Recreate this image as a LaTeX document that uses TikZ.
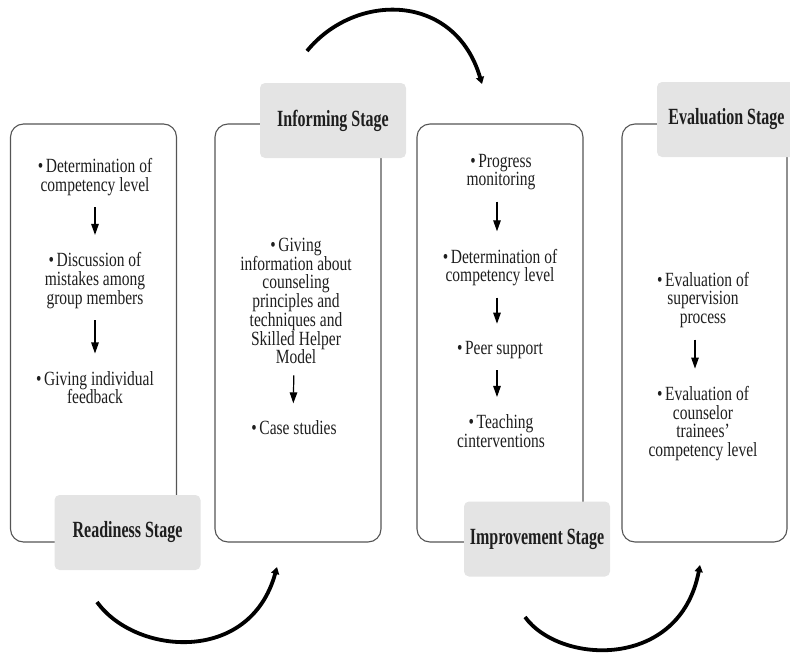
\documentclass[tikz,border=0pt]{standalone}
\usepackage{fontspec}
\setmainfont{Liberation Serif}
\usetikzlibrary{arrows.meta}
\definecolor{boxgray}{HTML}{555555}
\definecolor{labelfill}{HTML}{E4E4E4}
\definecolor{textcol}{HTML}{1E1E1E}
\begin{document}
\begin{tikzpicture}[x=1pt,y=-1pt,
  stagebox/.style={draw=boxgray, line width=1.1pt, rounded corners=13pt,
    minimum width=166pt, minimum height=418pt, inner sep=0pt},
  labelbox/.style={fill=labelfill, rounded corners=5pt, minimum width=146pt,
    minimum height=75pt, inner sep=0pt, text=textcol,
    font=\fontsize{16}{18}\selectfont\bfseries},
  itemtext/.style={align=center, text=textcol, inner sep=1pt, yscale=1.3,
    font=\fontsize{15.5}{14.4}\selectfont},
  smallarr/.style={draw=black, line width=1.2pt, -{Triangle[length=11pt,width=7.5pt]},
    shorten <=10pt, shorten >=16pt},
  bigarr/.style={draw=black, line width=3.8pt, -{Triangle[length=7pt,width=8pt]}}
]
\useasboundingbox (0,0) rectangle (790,653);

% stage boxes
\node[stagebox] (b1) at (93.5,333) {};
\node[stagebox] (b2) at (298,333) {};
\node[stagebox] (b3) at (500,333) {};
\node[stagebox, minimum width=165pt] (b4) at (704.5,333) {};

% labels
\node[labelbox] (l1) at (127.5,532.5) {\scalebox{1}[1.45]{Readiness Stage}};
\node[labelbox] (l2) at (333,120.5) {\scalebox{1}[1.45]{Informing Stage}};
\node[labelbox] (l3) at (537,539) {\scalebox{1}[1.45]{Improvement Stage}};
\node[labelbox] (l4) at (730,119.5) {\hspace*{-7pt}\scalebox{1}[1.45]{Evaluation Stage}};

% box 1 contents
\node[itemtext] (t11) at (95,177) {•\,Determination of\\competency level};
\node[itemtext] (t12) at (95,280.5) {•\,Discussion of\\mistakes among\\group members};
\node[itemtext] (t13) at (95,387.5) {•\,Giving individual\\feedback};
\draw[smallarr] (t11) -- (t12);
\draw[smallarr] (t12) -- (t13);

% box 2 contents
\node[itemtext] (t21) at (296,301) {•\,Giving\\information about\\counseling\\principles and\\techniques and\\Skilled Helper\\Model};
\node[itemtext] (t22) at (294,428) {•\,Case studies};
\draw[smallarr] ([xshift=-2pt]t21.south) -- ([xshift=-1pt]t22.north);

% box 3 contents
\node[itemtext] (t31) at (501,172) {•\,Progress\\monitoring};
\node[itemtext] (t32) at (500,267.5) {•\,Determination of\\competency level};
\node[itemtext] (t33) at (500,350) {•\,Peer support};
\node[itemtext] (t34) at (501,431) {•\,Teaching\\cinterventions};
\draw[smallarr] ([xshift=-4pt]t31.south) -- ([xshift=-3pt]t32.north);
\draw[smallarr] ([xshift=-3pt]t32.south) -- ([xshift=-3pt]t33.north);
\draw[smallarr] ([xshift=-3pt]t33.south) -- ([xshift=-4pt]t34.north);

% box 4 contents
\node[itemtext] (t41) at (703,300) {•\,Evaluation of\\supervision\\process};
\node[itemtext] (t42) at (703,423.5) {•\,Evaluation of\\counselor\\trainees’\\competency level};
\draw[smallarr] ([xshift=-8pt]t41.south) -- ([xshift=-8pt]t42.north);

% big curved arrows
\coordinate (c1s) at (97,602);
\coordinate (c1e) at (277,567);
\coordinate (c2s) at (307,51);
\coordinate (c2e) at (482,84);
\coordinate (c3s) at (525,617);
\coordinate (c3e) at (700,565);
\draw[bigarr] (c1s) .. controls (135,655) and (250,665) .. (c1e);
\draw[bigarr] (c2s) .. controls (355,-8) and (455,-8) .. (c2e);
\draw[bigarr] (c3s) .. controls (560,665) and (680,670) .. (c3e);
\end{tikzpicture}
\end{document}
